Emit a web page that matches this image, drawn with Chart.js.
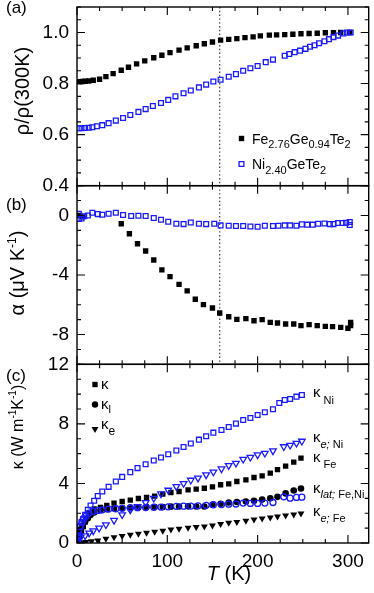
<!DOCTYPE html>
<html>
<head>
<meta charset="utf-8">
<script src="https://cdn.jsdelivr.net/npm/chart.js@4.4.0/dist/chart.umd.min.js"></script>
<style>
  html, body { margin: 0; padding: 0; background: #fff; }
  #wrap { position: relative; width: 374px; height: 593px; }
</style>
</head>
<body>
<div id="wrap"><canvas id="chart" width="374" height="593"></canvas></div>
<script>
// --- values ---
const xTicks = [0, 100, 200, 300];
const rhoTicks = [0.4, 0.6, 0.8, 1.0];
const alphaTicks = [0, -4, -8];
const kappaTicks = [0, 4, 8, 12];
const tTransition = 158;   // dotted line in (a) and (b)

// (a) resistivity ratio
const tRhoFe = [3, 6, 9, 13, 18, 25, 32, 40, 49, 57, 66, 75, 85, 94, 103, 113, 122, 132, 141, 150, 159, 168, 177, 186, 195, 203, 213, 221, 230, 239, 248, 257, 266, 275, 284, 292, 302];
const rhoFe = [0.807, 0.808, 0.809, 0.810, 0.813, 0.817, 0.827, 0.839, 0.852, 0.864, 0.877, 0.889, 0.901, 0.911, 0.921, 0.931, 0.940, 0.948, 0.956, 0.963, 0.970, 0.973, 0.976, 0.980, 0.983, 0.987, 0.990, 0.991, 0.992, 0.993, 0.995, 0.996, 0.997, 0.999, 0.999, 1.0, 1.0];
const tRhoNi = [2, 5, 9, 13, 17, 22, 28, 35, 43, 51, 59, 68, 76, 84, 93, 101, 109, 118, 126, 135, 143, 151, 159, 168, 176, 184, 192, 200, 209, 217, 230, 235, 241, 247, 253, 258, 263, 268, 274, 279, 284, 289, 295, 299, 303];
const rhoNi = [0.625, 0.625, 0.626, 0.627, 0.629, 0.633, 0.637, 0.645, 0.655, 0.665, 0.677, 0.689, 0.700, 0.712, 0.724, 0.736, 0.750, 0.762, 0.773, 0.785, 0.796, 0.808, 0.815, 0.827, 0.837, 0.850, 0.860, 0.869, 0.884, 0.894, 0.909, 0.916, 0.923, 0.929, 0.936, 0.944, 0.950, 0.958, 0.966, 0.974, 0.982, 0.988, 0.996, 1.0, 1.0];

// (b) thermopower
const tAlphaFe = [3, 6, 49, 58, 67, 76, 85, 94, 103, 113, 122, 131, 140, 150, 158, 168, 177, 187, 196, 205, 214, 222, 231, 240, 248, 257, 266, 275, 283, 292, 300, 303, 303];
const alphaFe = [0.0, -0.1, -0.56, -1.23, -1.9, -2.39, -2.99, -3.66, -4.11, -4.63, -5.07, -5.63, -5.99, -6.22, -6.55, -6.8, -6.98, -6.93, -7.07, -7.0, -7.18, -7.22, -7.29, -7.29, -7.4, -7.33, -7.4, -7.45, -7.47, -7.52, -7.58, -7.18, -7.4];
const tAlphaNi = [2, 2, 5, 8, 12, 17, 23, 28, 35, 43, 51, 60, 68, 76, 85, 93, 101, 110, 118, 126, 135, 143, 152, 159, 168, 176, 184, 192, 200, 208, 217, 223, 230, 236, 243, 249, 255, 261, 267, 274, 280, 284, 289, 294, 298, 302, 302];
const alphaNi = [0.11, -0.24, -0.2, -0.05, 0.0, 0.18, 0.09, 0.05, 0.11, 0.18, 0.03, -0.04, -0.02, -0.04, -0.17, -0.29, -0.42, -0.56, -0.58, -0.47, -0.56, -0.58, -0.56, -0.67, -0.69, -0.71, -0.71, -0.74, -0.76, -0.69, -0.71, -0.69, -0.67, -0.67, -0.69, -0.6, -0.62, -0.62, -0.56, -0.54, -0.58, -0.58, -0.51, -0.51, -0.49, -0.44, -0.64];

// (c) thermal conductivity
const tKapFe = [1, 3, 5, 7, 9, 11, 14, 19, 26, 33, 41, 50, 59, 68, 77, 86, 95, 104, 113, 123, 132, 141, 150, 159, 168, 177, 187, 196, 205, 214, 222, 231, 240, 248];
const kapFe = [0.22, 0.5, 0.8, 1.1, 1.4, 1.65, 2.0, 2.28, 2.39, 2.52, 2.68, 2.79, 2.88, 2.99, 3.06, 3.15, 3.28, 3.39, 3.46, 3.57, 3.62, 3.68, 3.77, 3.91, 3.97, 4.13, 4.24, 4.4, 4.51, 4.69, 4.93, 5.16, 5.43, 5.7];
const tKapLatFe = [1, 2, 4, 6, 9, 12, 15, 19, 26, 33, 41, 50, 59, 68, 77, 86, 95, 104, 113, 123, 132, 141, 150, 159, 168, 177, 187, 196, 205, 214, 222, 231, 240, 248];
const kapLatFe = [0.3, 0.65, 0.9, 1.18, 1.45, 1.67, 1.88, 2.05, 2.2, 2.27, 2.32, 2.35, 2.38, 2.4, 2.41, 2.42, 2.41, 2.44, 2.45, 2.46, 2.45, 2.45, 2.57, 2.63, 2.72, 2.75, 2.79, 2.84, 2.92, 3.01, 3.1, 3.33, 3.53, 3.66];
const tKapEFe = [1, 3, 6, 10, 16, 23, 32, 41, 50, 59, 68, 77, 86, 95, 104, 113, 123, 132, 141, 150, 159, 168, 177, 187, 196, 205, 214, 222, 231, 240, 248];
const kapEFe = [0.0, 0.02, 0.04, 0.07, 0.11, 0.17, 0.29, 0.38, 0.47, 0.56, 0.62, 0.69, 0.75, 0.82, 0.9, 0.96, 1.03, 1.08, 1.11, 1.18, 1.27, 1.36, 1.41, 1.49, 1.58, 1.65, 1.72, 1.78, 1.85, 1.92, 1.98];
const tKapNi = [1, 2, 3.5, 5, 7, 9, 12, 15, 19, 23, 28, 35, 43, 50, 59, 67, 76, 85, 93, 101, 110, 118, 126, 135, 143, 151, 160, 168, 176, 184, 192, 200, 208, 217, 224, 230, 236, 243, 249];
const kapNi = [0.5, 0.8, 1.1, 1.4, 1.6, 1.9, 2.23, 2.52, 2.84, 3.15, 3.46, 3.77, 4.13, 4.44, 4.76, 5.03, 5.29, 5.54, 5.74, 5.96, 6.21, 6.45, 6.68, 6.94, 7.17, 7.41, 7.59, 7.79, 8.02, 8.26, 8.4, 8.6, 8.78, 8.98, 9.4, 9.6, 9.67, 9.83, 9.94];
const tKapLatNi = [1, 2, 3.5, 5.5, 7, 10, 13, 18, 23, 28, 35, 43, 50, 59, 67, 76, 85, 93, 101, 110, 118, 126, 134, 143, 151, 160, 168, 176, 184, 192, 200, 208, 217, 229, 236, 243, 249];
const kapLatNi = [0.4, 0.78, 1.11, 1.38, 1.63, 1.8, 2.01, 2.12, 2.19, 2.23, 2.28, 2.3, 2.33, 2.35, 2.37, 2.38, 2.4, 2.41, 2.43, 2.46, 2.47, 2.48, 2.5, 2.53, 2.57, 2.58, 2.61, 2.62, 2.68, 2.66, 2.66, 2.68, 2.72, 3.1, 3.01, 3.06, 3.08];
const tKapENi = [1, 2, 4, 9, 13.5, 18, 24.5, 32, 41, 50, 59, 67, 76, 85, 93, 101, 110, 118, 126, 134, 143, 151, 160, 168, 176, 184, 192, 200, 208, 217, 229, 236, 243, 249];
const kapENi = [0.1, 0.22, 0.38, 0.49, 0.67, 0.82, 1.0, 1.23, 1.52, 1.9, 2.23, 2.45, 2.72, 3.01, 3.3, 3.55, 3.79, 4.0, 4.22, 4.36, 4.58, 4.77, 4.98, 5.2, 5.36, 5.63, 5.76, 5.92, 6.03, 6.19, 6.47, 6.57, 6.7, 6.84];

const BLUE = '#1a1aff';
const FONT = '"Liberation Sans", Arial, Helvetica, sans-serif';

function pts(xs, ys) {
  return xs.map((x, i) => ({ x: x, y: ys[i] }));
}

// marker styles
function filled(shape, r, axis) {
  return { yAxisID: axis, pointStyle: shape, pointRadius: r, pointRotation: shape === 'triangle' ? 180 : 0,
           backgroundColor: '#000', borderColor: '#000', pointBorderWidth: 0 };
}
function open(shape, r, axis) {
  return { yAxisID: axis, pointStyle: shape, pointRadius: r, pointRotation: shape === 'triangle' ? 180 : 0,
           backgroundColor: 'rgba(0,0,0,0)', borderColor: BLUE, pointBorderWidth: 1.3 };
}

const datasets = [
  Object.assign({ data: pts(tRhoNi, rhoNi) }, open('rect', 3.4, 'ya')),
  Object.assign({ data: pts(tRhoFe, rhoFe) }, filled('rect', 3.8, 'ya')),
  Object.assign({ data: pts(tAlphaNi, alphaNi) }, open('rect', 3.4, 'yb')),
  Object.assign({ data: pts(tAlphaFe, alphaFe) }, filled('rect', 3.8, 'yb')),
  Object.assign({ data: pts(tKapNi, kapNi) }, open('rect', 3.4, 'yc')),
  Object.assign({ data: pts(tKapENi, kapENi) }, open('triangle', 3.8, 'yc')),
  Object.assign({ data: pts(tKapLatNi, kapLatNi) }, open('circle', 3.0, 'yc')),
  Object.assign({ data: pts(tKapFe, kapFe) }, filled('rect', 3.8, 'yc')),
  Object.assign({ data: pts(tKapLatFe, kapLatFe) }, filled('circle', 3.3, 'yc')),
  Object.assign({ data: pts(tKapEFe, kapEFe) }, filled('triangle', 4.0, 'yc'))
];

// text with sub/superscripts: parts = [text, size, dy, italic]
function rich(ctx, x, y, parts, align) {
  let w = 0;
  parts.forEach(p => {
    ctx.font = (p[3] ? 'italic ' : '') + p[1] + 'px ' + FONT;
    w += ctx.measureText(p[0]).width;
  });
  let cx = align === 'center' ? x - w / 2 : x;
  parts.forEach(p => {
    ctx.font = (p[3] ? 'italic ' : '') + p[1] + 'px ' + FONT;
    ctx.fillText(p[0], cx, y + (p[2] || 0));
    cx += ctx.measureText(p[0]).width;
  });
}

function vtitle(ctx, x, y, parts) {
  ctx.save();
  ctx.translate(x, y);
  ctx.rotate(-Math.PI / 2);
  rich(ctx, 0, 0, parts, 'center');
  ctx.restore();
}

function marker(ctx, shape, x, y, r, fill) {
  ctx.beginPath();
  if (shape === 'rect') {
    ctx.rect(x - r * 0.707, y - r * 0.707, r * 1.414, r * 1.414);
  } else if (shape === 'circle') {
    ctx.arc(x, y, r, 0, Math.PI * 2);
  } else {
    ctx.moveTo(x - r * 0.866, y - r * 0.5);
    ctx.lineTo(x + r * 0.866, y - r * 0.5);
    ctx.lineTo(x, y + r);
    ctx.closePath();
  }
  if (fill) { ctx.fillStyle = '#000'; ctx.fill(); }
  else { ctx.strokeStyle = BLUE; ctx.lineWidth = 1.3; ctx.stroke(); }
}

function panelTicks(ctx, xs, ys, yStep, yMajor) {
  const L = xs.left, R = xs.right, T = ys.top, B = ys.bottom;
  ctx.beginPath();
  for (let v = 0; v <= xs.max + 1e-9; v += 25) {
    const px = xs.getPixelForValue(v);
    const len = v % 100 === 0 ? 8 : 4;
    ctx.moveTo(px, B); ctx.lineTo(px, B - len);
    ctx.moveTo(px, T); ctx.lineTo(px, T + len);
  }
  const n = Math.round((ys.max - ys.min) / yStep);
  for (let i = 0; i <= n; i++) {
    const v = ys.min + i * yStep;
    const py = ys.getPixelForValue(v);
    const q = v / yMajor;
    const len = Math.abs(q - Math.round(q)) < 1e-6 ? 8 : 4;
    ctx.moveTo(L, py); ctx.lineTo(L + len, py);
    ctx.moveTo(R, py); ctx.lineTo(R - len, py);
  }
  ctx.stroke();
}

const decor = {
  id: 'decor',
  beforeDatasetsDraw(chart) {
    const ctx = chart.ctx, xs = chart.scales.x;
    const px = xs.getPixelForValue(tTransition);
    ctx.save();
    ctx.strokeStyle = '#444';
    ctx.lineWidth = 1.3;
    ctx.setLineDash([1.4, 2.4]);
    ctx.beginPath();
    ctx.moveTo(px, chart.scales.ya.top);
    ctx.lineTo(px, chart.scales.yb.bottom);
    ctx.stroke();
    ctx.restore();
  },
  afterDraw(chart) {
    const ctx = chart.ctx, xs = chart.scales.x;
    const ya = chart.scales.ya, yb = chart.scales.yb, yc = chart.scales.yc;
    ctx.save();
    ctx.strokeStyle = '#000';
    ctx.lineWidth = 1.4;
    [ya, yb, yc].forEach(s => ctx.strokeRect(xs.left, s.top, xs.right - xs.left, s.bottom - s.top));
    ctx.lineWidth = 1.1;
    panelTicks(ctx, xs, ya, 0.05, 0.2);
    panelTicks(ctx, xs, yb, 1, 4);
    panelTicks(ctx, xs, yc, 1, 4);

    ctx.fillStyle = '#000';
    ctx.textBaseline = 'alphabetic';
    // panel letters
    rich(ctx, 6, 13, [['(a)', 17]]);
    rich(ctx, 6, 210, [['(b)', 17]]);
    rich(ctx, 6, 381, [['(c)', 17]]);

    // axis titles
    vtitle(ctx, 29, 91, [['ρ/ρ(300K)', 20]]);
    vtitle(ctx, 24, 273, [['α (μV K', 20], ['-1', 12, -8], [')', 20]]);
    vtitle(ctx, 23, 427, [['κ (W m', 16], ['-1', 10, -7], ['K', 16], ['-1', 10, -7], [')', 16]]);
    rich(ctx, 229, 580, [['T', 20, 0, true], [' (K)', 20]], 'center');

    // legend of (a)
    marker(ctx, 'rect', 241.5, 138.5, 3.8, true);
    rich(ctx, 252, 143.5, [['Fe', 14], ['2.76', 11, 4.5], ['Ge', 14], ['0.94', 11, 4.5], ['Te', 14], ['2', 11, 4.5]]);
    marker(ctx, 'rect', 241.5, 164, 3.4, false);
    ctx.fillStyle = '#000';
    rich(ctx, 252, 169, [['Ni', 14], ['2.40', 11, 4.5], ['GeTe', 14], ['2', 11, 4.5]]);

    // legend of (c)
    marker(ctx, 'rect', 95, 384.5, 3.8, true);
    rich(ctx, 101, 389, [['κ', 15]]);
    marker(ctx, 'circle', 95, 404.5, 3.2, true);
    rich(ctx, 101, 409, [['κ', 15], ['l', 11, 4]]);
    marker(ctx, 'triangle', 95, 429, 4, true);
    rich(ctx, 101, 428.5, [['κ', 15], ['e', 12, 6]]);

    // curve labels of (c)
    rich(ctx, 313, 397, [['κ', 15], [' Ni', 11, 7]]);
    rich(ctx, 313, 442, [['κ', 15], ['e;', 11, 6, true], [' Ni', 11, 6]]);
    rich(ctx, 313, 462, [['κ', 15], [' Fe', 11, 6]]);
    rich(ctx, 313, 493, [['κ', 15], ['lat;', 11, 5, true], [' Fe,Ni', 11, 5]]);
    rich(ctx, 313, 515.5, [['κ', 15], ['e;', 11, 6, true], [' Fe', 11, 6]]);
    ctx.restore();
  }
};

function yAxis(min, max, ticks, weight, fmt) {
  return {
    type: 'linear', position: 'left', stack: 'panels', stackWeight: 1, weight: weight,
    min: min, max: max,
    afterBuildTicks: s => { s.ticks = ticks.map(v => ({ value: v })); },
    afterFit: s => { s.width = 70; s.paddingTop = 0; s.paddingBottom = 0; },
    grid: { display: false, drawTicks: false },
    border: { display: false },
    ticks: { color: '#000', font: { family: FONT, size: 19 }, padding: 8, autoSkip: false, callback: fmt }
  };
}

new Chart(document.getElementById('chart'), {
  type: 'scatter',
  data: { datasets: datasets },
  plugins: [decor],
  options: {
    responsive: false,
    animation: false,
    devicePixelRatio: 1,
    events: [],
    layout: { padding: { left: 7, right: 3, top: 7, bottom: 0 } },
    plugins: { legend: { display: false }, tooltip: { enabled: false } },
    scales: {
      x: {
        type: 'linear', min: 0, max: 323,
        afterBuildTicks: s => { s.ticks = xTicks.map(v => ({ value: v })); },
        afterFit: s => { s.height = 50; s.paddingLeft = 0; s.paddingRight = 0; },
        grid: { display: false, drawTicks: false },
        border: { display: false },
        ticks: { color: '#000', font: { family: FONT, size: 19 }, padding: 7, maxRotation: 0, autoSkip: false }
      },
      ya: yAxis(0.4, 1.1, rhoTicks, 3, v => v.toFixed(1)),
      yb: yAxis(-10, 2, alphaTicks, 2, v => String(v)),
      yc: yAxis(0, 12, kappaTicks, 1, v => String(v))
    }
  }
});
</script>
</body>
</html>
